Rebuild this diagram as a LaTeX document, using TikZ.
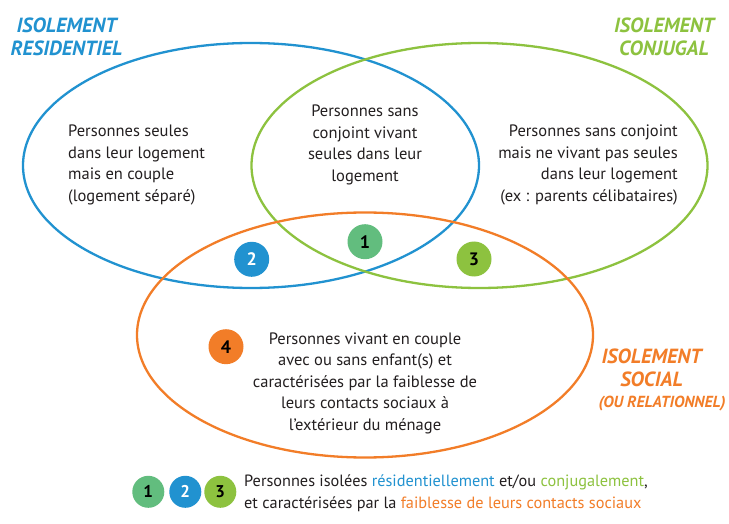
\documentclass[tikz,border=0pt]{standalone}
\usepackage{fontspec}
\setmainfont{PT Sans}
\usetikzlibrary{shapes.geometric}
\definecolor{cblue}{RGB}{33,146,208}
\definecolor{clime}{RGB}{141,194,63}
\definecolor{cteal}{RGB}{98,189,126}
\definecolor{corange}{RGB}{242,125,40}
\definecolor{ctext}{RGB}{35,31,32}
\begin{document}
\begin{tikzpicture}[x=1pt,y=-1pt,
  ring/.style={ellipse, draw, line width=2.3pt, minimum width=456pt, minimum height=245pt, inner sep=0pt},
  badge/.style={circle, minimum size=35pt, inner sep=0pt, font=\bfseries\fontsize{18}{18}\selectfont},
  minibadge/.style={circle, minimum size=32pt, inner sep=0pt, font=\bfseries\fontsize{17}{17}\selectfont},
  body/.style={font=\fontsize{16.5}{21.5}\selectfont, text=ctext, inner sep=0pt},
  legend/.style={font=\fontsize{16.3}{21.7}\selectfont, text=ctext, inner sep=0pt, align=left},
  title/.style={font=\bfseries\itshape\fontsize{20.5}{23}\selectfont, align=center, inner sep=0pt}]
\useasboundingbox[fill=white] (0,0) rectangle (729,524);
% rings
\node[ring, draw=cblue] (eres) at (251,165.5) {};
\node[ring, draw=clime] (econ) at (479.5,165.5) {};
\node[ring, draw=corange] (esoc) at (365,335) {};
% titles
\node[title, text=cblue] (tres) at (66.5,37) {ISOLEMENT\\RESIDENTIEL};
\node[title, text=clime] (tcon) at (664,37) {ISOLEMENT\\CONJUGAL};
\node[title, text=corange] (tsoc) at (651.5,367.5) {ISOLEMENT\\SOCIAL};
\node[title, text=corange, font=\bfseries\itshape\fontsize{16}{18}\selectfont] (tsoc2) at (662,403.5) {(OU RELATIONNEL)};
% texts
\node[body, align=left, anchor=west] (txres) at (68,165) {Personnes seules\\dans leur logement\\mais en couple\\(logement séparé)};
\node[body, align=center] (txmid) at (365,145) {Personnes sans\\conjoint vivant\\seules dans leur\\logement};
\node[body, align=right, anchor=east] (txcon) at (678,165) {Personnes sans conjoint\\mais ne vivant pas seules\\dans leur logement\\(ex : parents célibataires)};
\node[body, align=center] (txsoc) at (365,383) {Personnes vivant en couple\\avec ou sans enfant(s) et\\caractérisées par la faiblesse de\\leurs contacts sociaux à\\l’extérieur du ménage};
% badges
\node[badge, fill=cteal, text=black] (b1) at (365,241.7) {1};
\node[badge, fill=cblue, text=white] (b2) at (251.7,259.3) {2};
\node[badge, fill=clime, text=black] (b3) at (474,259) {3};
\node[badge, fill=corange, text=black] (b4) at (226,346.7) {4};
% legend
\node[minibadge, fill=cteal, text=black] (l1) at (148.3,491.8) {1};
\node[minibadge, fill=cblue, text=white] (l2) at (185.3,491.8) {2};
\node[minibadge, fill=clime, text=black] (l3) at (220.3,491.8) {3};
\node[legend, anchor=west] (leg) at (244,493) {Personnes isolées \textcolor{cblue}{résidentiellement} et/ou \textcolor{clime}{conjugalement},\\et caractérisées par la \textcolor{corange}{faiblesse de leurs contacts sociaux}};
\end{tikzpicture}
\end{document}
